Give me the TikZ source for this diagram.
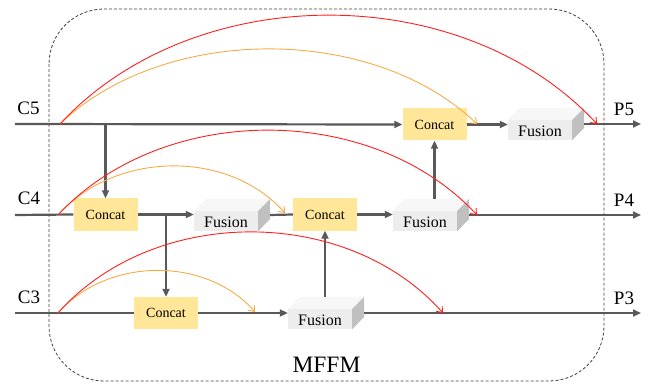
\documentclass[tikz,border=0pt]{standalone}
\usepackage{fontspec}
\setmainfont{Liberation Serif}
\usetikzlibrary{arrows.meta,calc}
\definecolor{flow}{HTML}{595959}
\definecolor{catfill}{HTML}{FFE699}
\definecolor{fusfront}{HTML}{EDEDED}
\definecolor{fustop}{HTML}{F7F7F7}
\definecolor{fusside}{HTML}{C0C0C0}
\definecolor{skipred}{HTML}{FF1F1F}
\definecolor{skiporange}{HTML}{F5AC48}
\definecolor{frame}{HTML}{404040}
% top and side faces of a Fusion block (front face = the node)
\newcommand{\fusionfaces}[1]{%
  \fill[fustop] (#1.north west) -- ++(12,-12) -- ++(64,0) -- (#1.north east) -- cycle;
  \fill[fusside] (#1.north east) -- ++(12,-12) -- ++(0,20) -- (#1.south east) -- cycle;}
\tikzset{
  concatbox/.style={fill=catfill, minimum width=64pt, minimum height=32pt, inner sep=0pt,
    font=\fontsize{14}{14}\selectfont},
  fusionbox/.style={fill=fusfront, minimum width=64pt, minimum height=20pt, inner sep=0pt,
    font=\fontsize{16}{16}\selectfont, text height=13pt, text depth=0pt},
  portlabel/.style={inner sep=0pt, font=\fontsize{19}{19}\selectfont},
  flowline/.style={draw=flow, line width=2.2pt},
  flowarrow/.style={flowline, -{Triangle[length=8pt,width=7pt]}},
  redskip/.style={draw=skipred, line width=0.9pt, -{Straight Barb[length=5pt,width=8pt]}},
  orangeskip/.style={draw=skiporange, line width=0.9pt, -{Straight Barb[length=5pt,width=8pt]}},
}
\begin{document}
\begin{tikzpicture}[x=1pt,y=-1pt]
\useasboundingbox (0,0) rectangle (651,385);

% module frame
\draw[frame, line width=0.8pt, dash pattern=on 3pt off 2pt, rounded corners=55pt]
  (49,9) rectangle (604,381);
\node[inner sep=0pt, font=\fontsize{23.5}{23.5}\selectfont] (title) at (326.5,365) {MFFM};

% inputs and outputs
\node[portlabel] (C5) at (28.5,108.5) {C5};
\node[portlabel] (C4) at (29,198.5) {C4};
\node[portlabel] (C3) at (29,297.5) {C3};
\node[portlabel] (P5) at (624,109.5) {P5};
\node[portlabel] (P4) at (624,200.5) {P4};
\node[portlabel] (P3) at (624,298.5) {P3};

\coordinate (c5) at (15,124);
\coordinate (c4) at (15,215);
\coordinate (c3) at (15,313);
\coordinate (p5) at (641,124);
\coordinate (p4) at (641,215);
\coordinate (p3) at (641,313);

% blocks
\node[concatbox] (K5) at (434.5,124.5) {Concat};
\node[concatbox] (K4) at (105.5,214.5) {Concat};
\node[concatbox] (K4b) at (325,214.5) {Concat};
\node[concatbox] (K3) at (166,313) {Concat};

\node[fusionbox] (F5) at (540,130) {Fusion};
\node[fusionbox] (F4a) at (226,221) {Fusion};
\node[fusionbox] (F4b) at (425,221) {Fusion};
\node[fusionbox] (F3) at (320,319) {Fusion};
\fusionfaces{F5}
\fusionfaces{F4a}
\fusionfaces{F4b}
\fusionfaces{F3}

\coordinate (F4btop) at ($(F4b.north)+(0,-12)$);
\coordinate (F3top) at ($(F3.north)+(0,-12)$);

% top row
\draw[flowarrow] (c5) -- (K5.west);
\draw[flowarrow] (K5.east) -- (K5.east -| F5.west);
\draw[flowarrow] ($(F5.east)+(12,-6)$) -- (p5);
\draw[flowarrow] (K4.north |- c5) -- (K4.north);

% middle row
\draw[flowline] (c4) -- (K4.west);
\draw[flowarrow] (K4.east) -- (K4.east -| F4a.west);
\draw[flowarrow] (K3.north |- c4) -- (K3.north);
\draw[flowline] ($(F4a.east)+(12,-6)$) -- (K4b.west);
\draw[flowarrow] (K4b.east) -- (K4b.east -| F4b.west);
\draw[flowarrow] ($(F4b.east)+(12,-6)$) -- (p4);
\draw[flowarrow] (K5.south |- F4btop) -- (K5.south);

% bottom row
\draw[flowline] (c3) -- (K3.west);
\draw[flowarrow] (K3.east) -- (K3.east -| F3.west);
\draw[flowarrow] ($(F3.east)+(12,-6)$) -- (p3);
\draw[flowarrow] (K4b.south |- F3top) -- (K4b.south);

% skip connections
\coordinate (s5) at (60,124);
\coordinate (s4) at (58,215);
\coordinate (s3) at (58,313);
\coordinate (r5) at (597,124);
\coordinate (o5) at (477,124);
\coordinate (r4) at (477,215);
\coordinate (o4) at (285,213);
\coordinate (r3) at (443,313);
\coordinate (o3) at (255,312);

\draw[orangeskip] (s5) .. controls +(104,-100) and +(-104,-100) .. (o5);
\draw[redskip] (s5) .. controls +(134,-145) and +(-134,-145) .. (r5);
\draw[orangeskip] (s4) .. controls +(57,-64) and +(-57,-64) .. (o4);
\draw[redskip] (s4) .. controls +(105,-113) and +(-105,-113) .. (r4);
\draw[orangeskip] (s3) .. controls +(49,-56) and +(-49,-56) .. (o3);
\draw[redskip] (s3) .. controls +(96,-108) and +(-96,-108) .. (r3);
\end{tikzpicture}
\end{document}
